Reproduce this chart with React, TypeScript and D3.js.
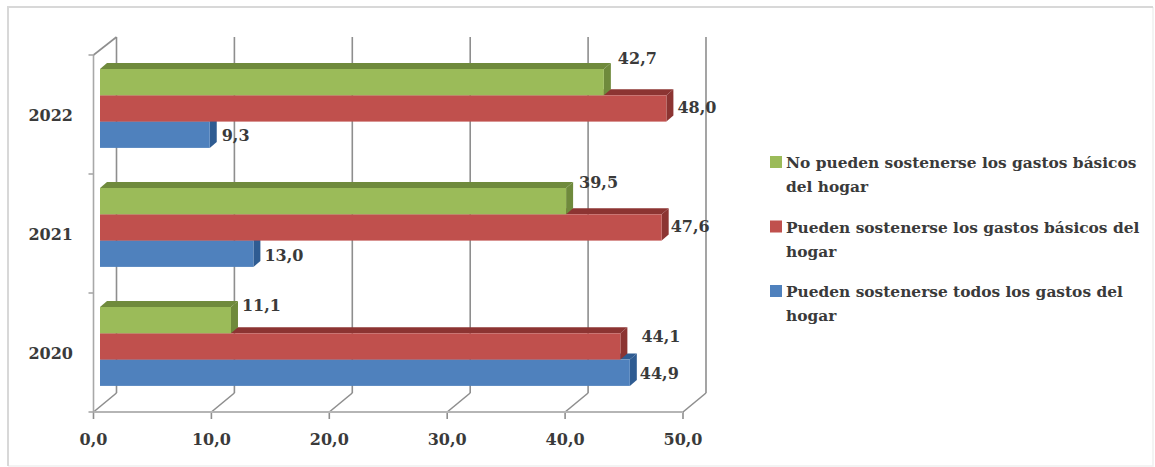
import React from "react";
import * as d3 from "d3";

const years = ["2022", "2021", "2020"];
const seriesNames = ["Pueden sostenerse todos los gastos del hogar", "Pueden sostenerse los gastos básicos del hogar", "No pueden sostenerse los gastos básicos del hogar"];
const todosValues = [9.3, 13.0, 44.9];
const basicosValues = [48.0, 47.6, 44.1];
const noPuedenValues = [42.7, 39.5, 11.1];
const axisTicks = [0, 10, 20, 30, 40, 50];

const legendLines = [
  ["No pueden sostenerse los gastos básicos", "del hogar"],
  ["Pueden sostenerse los gastos básicos del", "hogar"],
  ["Pueden sostenerse todos los gastos del", "hogar"],
];

const FONT = "'DejaVu Serif', serif";
const INK = "#3a3a3a";
const GRID = "#8e8e8e";

const WIDTH = 1155;
const HEIGHT = 467;
const DEPTH_X = 23;
const DEPTH_Y = 19;
const BAR_DX = 7;
const BAR_DY = 6;
const FLOOR_Y = 412;
const TOP_Y = 55;

const fmt = (v: number) => v.toFixed(1).replace(".", ",");

export default function App() {
  // Two horizontal scales: the axis on the front plane, and the bars, which sit a little deeper.
  const xAxis = d3.scaleLinear().domain([0, 50]).range([93.5, 683]);
  const xBar = d3.scaleLinear().domain([0, 50]).range([100, 690]);
  const yCat = d3.scaleBand().domain(years).range([TOP_Y, FLOOR_Y]);
  const barH = 26.3;

  const series = [
    { values: todosValues, front: "#4f81bd", dark: "#2f5c92", row: 2 },
    { values: basicosValues, front: "#c0504d", dark: "#8c3432", row: 1 },
    { values: noPuedenValues, front: "#9bbb59", dark: "#6f8a3c", row: 0 },
  ];

  // Manual label offsets per series and year, in the order of `years`.
  const labelNudge: Record<number, [number, number][]> = {
    2: [[5, 2], [4, 3], [3, 2]],
    1: [[4, 0], [2, 0], [14, -9]],
    0: [[7, -23], [6, -18], [4, -14]],
  };

  const barTop = (year: string, row: number) => (yCat(year) as number) + 14 + row * barH;

  const categoryEdges = [TOP_Y, ...years.map((y) => (yCat(y) as number) + yCat.bandwidth())];

  return (
    <svg width={WIDTH} height={HEIGHT} style={{ position: "absolute", left: 0, top: 0, background: "#fff" }} fontFamily={FONT} fontWeight="bold">
      {/* outer frame: firm on the top and left, faint on the other two sides */}
      <path d="M1153 7V466H8" fill="none" stroke="#f0f0f0" strokeWidth={1.5} />
      <path d="M8 466V7H1153" fill="none" stroke="#d8d8d8" strokeWidth={2} />

      {/* walls, floor and grid */}
      <g stroke={GRID} strokeWidth={1.6} fill="none">
        {axisTicks.map((t) => (
          <g key={t}>
            <line x1={xAxis(t) + DEPTH_X} x2={xAxis(t) + DEPTH_X} y1={TOP_Y - DEPTH_Y + 1} y2={FLOOR_Y - DEPTH_Y} />
            <line x1={xAxis(t)} x2={xAxis(t) + DEPTH_X} y1={FLOOR_Y} y2={FLOOR_Y - DEPTH_Y} />
            <line x1={xAxis(t)} x2={xAxis(t)} y1={FLOOR_Y} y2={FLOOR_Y + 7} />
          </g>
        ))}
        <line x1={xAxis(0)} x2={xAxis(50)} y1={FLOOR_Y} y2={FLOOR_Y} stroke="#b5b5b5" strokeWidth={2} />
        <line x1={xAxis(0)} x2={xAxis(0)} y1={TOP_Y} y2={FLOOR_Y} stroke="#a8a8a8" />
        <line x1={xAxis(0)} x2={xAxis(0) + DEPTH_X} y1={TOP_Y} y2={TOP_Y - DEPTH_Y + 1} />
        {categoryEdges.map((e) => (
          <line key={e} x1={xAxis(0) - 5} x2={xAxis(0)} y1={e} y2={e} stroke="#a8a8a8" />
        ))}
      </g>

      {/* bars, nearest series first so the upper ones cover the tops below them */}
      {series.map((s) =>
        years.map((year, i) => {
          const x0 = xBar(0);
          const x1 = xBar(s.values[i]);
          const y0 = barTop(year, s.row);
          const y1 = y0 + barH;
          const top = d3.line()([[x0, y0], [x0 + BAR_DX, y0 - BAR_DY], [x1 + BAR_DX, y0 - BAR_DY], [x1, y0]]) + "Z";
          const side = d3.line()([[x1, y0], [x1 + BAR_DX, y0 - BAR_DY], [x1 + BAR_DX, y1 - BAR_DY], [x1, y1]]) + "Z";
          return (
            <g key={year + s.row}>
              <path d={top} fill={s.dark} />
              <path d={side} fill={s.dark} />
              <rect x={x0} y={y0} width={x1 - x0} height={barH} fill={s.front} />
            </g>
          );
        })
      )}

      {/* value labels */}
      {series.map((s) =>
        years.map((year, i) => {
          const [dx, dy] = labelNudge[s.row][i];
          return (
            <text key={year + s.row} x={xBar(s.values[i]) + BAR_DX + dx} y={barTop(year, s.row) + barH / 2 - BAR_DY / 2 + dy + 3} dominantBaseline="middle" fontSize={16} fill={INK}>
              {fmt(s.values[i])}
            </text>
          );
        })
      )}

      {/* axis labels */}
      {axisTicks.map((t) => (
        <text key={t} x={xAxis(t)} y={445} textAnchor="middle" fontSize={16} fill={INK}>
          {fmt(t)}
        </text>
      ))}
      {years.map((y) => (
        <text key={y} x={73} y={(yCat(y) as number) + yCat.bandwidth() / 2 + 2} textAnchor="end" dominantBaseline="middle" fontSize={16} fill={INK}>
          {y}
        </text>
      ))}

      {/* legend */}
      {legendLines.map((lines, i) => {
        const cy = 162 + i * 64.5;
        const s = series[2 - i];
        return (
          <g key={seriesNames[2 - i]}>
            <rect x={770} y={cy - 6} width={12} height={12} fill={s.front} />
            {lines.map((line, j) => (
              <text key={line} x={786} y={cy + 6 + j * 24} fontSize={15.4} fill={INK}>
                {line}
              </text>
            ))}
          </g>
        );
      })}
    </svg>
  );
}
